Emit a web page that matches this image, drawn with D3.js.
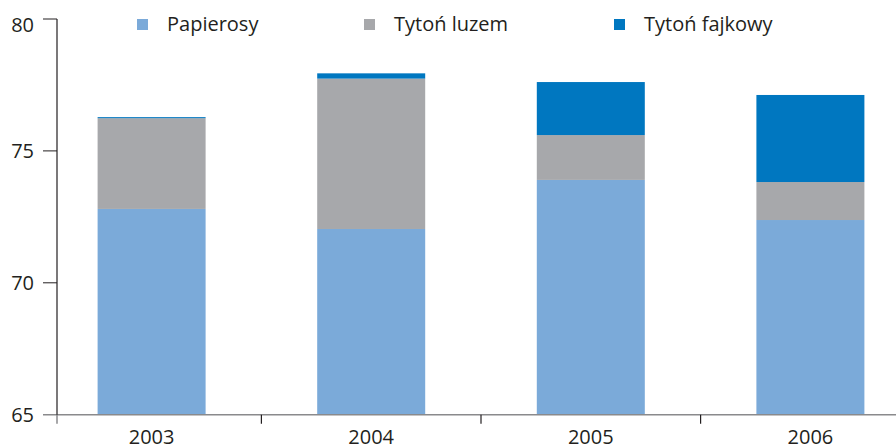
<!DOCTYPE html>
<html>
<head>
<meta charset="utf-8">
<script src="https://cdn.jsdelivr.net/npm/d3@7"></script>
<style>
  html, body { margin: 0; padding: 0; background: #fff; }
  svg { display: block; }
  text { font-family: "Open Sans", "Noto Sans", sans-serif; fill: #231f20; }
</style>
</head>
<body>
<svg id="chart" width="896" height="447"></svg>
<script>
const years = ["2003", "2004", "2005", "2006"];
const seriesNames = ["Papierosy", "Tytoń luzem", "Tytoń fajkowy"];
const papierosy = [72.80, 72.04, 73.90, 72.38];
const tytonLuzem = [3.44, 5.70, 1.70, 1.44];
const tytonFajkowy = [0.04, 0.20, 2.01, 3.30];
const yTicks = [65, 70, 75, 80];
const colors = ["#7baad9", "#a7a8ab", "#0077c0"];

const svg = d3.select("#chart");
const yAxisX = 57;

const x = d3.scaleBand().domain(years).range([41.8, 920.2]).paddingInner(0).paddingOuter(0);
const barW = 108;
const y = d3.scaleLinear().domain([65, 80]).range([414.7, 19]);

const table = years.map((yr, i) => ({
  year: yr, "Papierosy": papierosy[i], "Tytoń luzem": tytonLuzem[i], "Tytoń fajkowy": tytonFajkowy[i]
}));
const stacked = d3.stack().keys(seriesNames)(table);

// bars
stacked.forEach((layer, li) => {
  svg.append("g").selectAll("rect").data(layer).join("rect")
    .attr("x", d => x(d.data.year) + x.bandwidth() / 2 - barW / 2)
    .attr("width", barW)
    .attr("y", d => y(d[1]))
    .attr("height", d => y(Math.max(65, d[0])) - y(d[1]))
    .attr("fill", colors[li]);
});

// x axis line
svg.append("line")
  .attr("x1", 43).attr("x2", 896)
  .attr("y1", y(65)).attr("y2", y(65))
  .attr("stroke", "#8a8a8c").attr("stroke-width", 1.5);

// x category boundary ticks
const bounds = years.slice(1).map(yr => x(yr));
svg.append("g").selectAll("line").data(bounds).join("line")
  .attr("x1", d => d).attr("x2", d => d)
  .attr("y1", y(65)).attr("y2", y(65) + 9)
  .attr("stroke", "#231f20").attr("stroke-width", 1.2);
svg.append("line")
  .attr("x1", yAxisX).attr("x2", yAxisX)
  .attr("y1", y(65)).attr("y2", y(65) + 9)
  .attr("stroke", "#8a8a8c").attr("stroke-width", 1.5);

// x labels
svg.append("g").selectAll("text").data(years).join("text")
  .attr("x", d => x(d) + x.bandwidth() / 2)
  .attr("y", 444)
  .attr("text-anchor", "middle")
  .attr("font-size", 20)
  .text(d => d);

// y axis
svg.append("line")
  .attr("x1", yAxisX).attr("x2", yAxisX)
  .attr("y1", y(80)).attr("y2", y(65))
  .attr("stroke", "#231f20").attr("stroke-width", 1.2);
svg.append("g").selectAll("line").data(yTicks.filter(t => t > 65)).join("line")
  .attr("x1", 43).attr("x2", yAxisX)
  .attr("y1", d => y(d)).attr("y2", d => y(d))
  .attr("stroke", "#231f20").attr("stroke-width", 1);
svg.append("g").selectAll("text").data(yTicks).join("text")
  .attr("x", 34)
  .attr("y", d => Math.max(y(d), 24.5))
  .attr("dy", "0.35em")
  .attr("text-anchor", "end")
  .attr("font-size", 20)
  .text(d => d);

// legend
const legendX = [137, 364, 614];
const lg = svg.append("g").selectAll("g").data(seriesNames).join("g")
  .attr("transform", (d, i) => `translate(${legendX[i]},19)`);
lg.append("rect").attr("width", 11).attr("height", 11).attr("fill", (d, i) => colors[i]);
lg.append("text").attr("x", 30).attr("y", 12).attr("font-size", 20).text(d => d);
</script>
</body>
</html>
